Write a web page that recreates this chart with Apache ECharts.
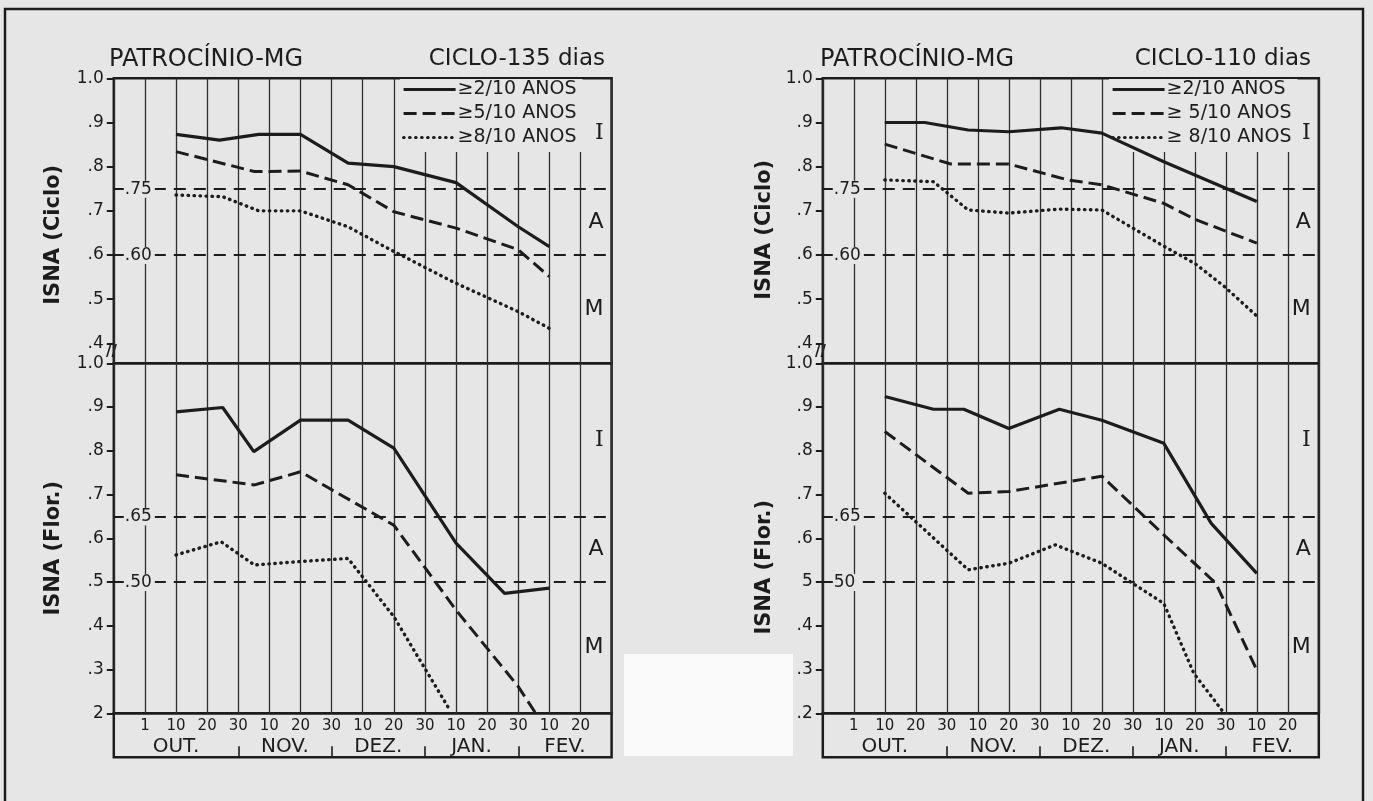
<!DOCTYPE html>
<html>
<head>
<meta charset="utf-8">
<script src="https://cdn.jsdelivr.net/npm/echarts@6/dist/echarts.min.js"></script>
<style>
html,body{margin:0;padding:0;background:#e6e6e6;}
#c{width:1373px;height:801px;}
</style>
</head>
<body>
<div id="c"></div>
<script>
// ---------------- data ----------------
// x position: 1 = Out 1, 2 = Out 10, 3 = Out 20, 4 = Out 30, 5 = Nov 10 ... 15 = Fev 20
const dayTicks = ['1','10','20','30','10','20','30','10','20','30','10','20','30','10','20'];
const months = ['OUT.','NOV.','DEZ.','JAN.','FEV.'];
const monthBounds = [0, 4, 7, 10, 13, 16];
const seriesNames = ['≥2/10 ANOS', '≥5/10 ANOS', '≥8/10 ANOS'];

const cicloTicks = [0.4, 0.5, 0.6, 0.7, 0.8, 0.9, 1.0];
const cicloTickLabels = ['.4', '.5', '.6', '.7', '.8', '.9', '1.0'];
const florTicks = [0.2, 0.3, 0.4, 0.5, 0.6, 0.7, 0.8, 0.9, 1.0];
const florTickLabelsL = ['2', '.3', '.4', '.5', '.6', '.7', '.8', '.9', '1.0'];
const florTickLabelsR = ['.2', '.3', '.4', '5', '.6', '.7', '.8', '.9', '1.0'];

const cicloLimits = [0.75, 0.60];
const cicloLimitLabels = ['.75', '.60'];
const florLimits = [0.65, 0.50];
const florLimitLabelsL = ['.65', '.50'];
const florLimitLabelsR = ['.65', '50'];
const zoneLabels = ['I', 'A', 'M'];

// Ciclo 135 dias - ISNA (Ciclo)
const c135Ciclo2 = [[2,0.873],[3.4,0.860],[4.66,0.873],[6,0.873],[7.53,0.808],[9,0.800],[11,0.764],[13,0.664],[14,0.619]];
const c135Ciclo5 = [[2,0.834],[4.52,0.789],[6,0.790],[7.53,0.759],[9,0.698],[11,0.661],[13,0.612],[14,0.551]];
const c135Ciclo8 = [[2,0.736],[3.5,0.732],[4.66,0.700],[6,0.700],[7.53,0.664],[9,0.608],[11,0.536],[13,0.472],[14,0.434]];
// Ciclo 135 dias - ISNA (Flor.)
const c135Flor2 = [[2,0.889],[3.5,0.899],[4.5,0.798],[6,0.870],[7.53,0.870],[9,0.806],[11,0.589],[12.56,0.474],[14,0.486]];
const c135Flor5 = [[2,0.745],[4.52,0.722],[6,0.752],[9,0.630],[11,0.436],[13,0.261],[13.56,0.200]];
const c135Flor8 = [[2,0.562],[3.45,0.592],[4.52,0.539],[6,0.547],[7.53,0.554],[9,0.421],[10.77,0.211]];
// Ciclo 110 dias - ISNA (Ciclo)
const c110Ciclo2 = [[2,0.900],[3.29,0.900],[4.69,0.883],[6,0.879],[7.69,0.888],[9,0.876],[11,0.811],[14,0.721]];
const c110Ciclo5 = [[2,0.851],[4.13,0.806],[6,0.806],[7.91,0.770],[9,0.759],[11,0.717],[12,0.681],[14,0.627]];
const c110Ciclo8 = [[2,0.770],[3.57,0.766],[4.69,0.702],[6,0.695],[7.63,0.704],[9,0.702],[11,0.620],[12,0.581],[12.95,0.529],[14.08,0.457]];
// Ciclo 110 dias - ISNA (Flor.)
const c110Flor2 = [[2,0.924],[3.57,0.895],[4.55,0.895],[6,0.851],[7.63,0.895],[9,0.870],[11,0.817],[12.53,0.634],[14,0.520]];
const c110Flor5 = [[2,0.844],[4.69,0.703],[6,0.707],[9,0.742],[11,0.608],[12.68,0.497],[14,0.299]];
const c110Flor8 = [[2,0.703],[4.69,0.528],[6,0.543],[7.5,0.585],[9,0.543],[11,0.451],[11.97,0.291],[12.95,0.200]];

// ---------------- layout / style ----------------
const BG = '#e6e6e6';
const INK = '#1c1c1c';
const FONT = 'DejaVu Sans';
const CICLO_MIN = 0.355;
const FLOR_MIN = 0.2;

const lineStyles = [
  {color: INK, width: 3.2, type: 'solid'},
  {color: INK, width: 3, type: [13, 6]},
  {color: INK, width: 3.4, type: [0.5, 5.5], cap: 'round'}
];

const panels = [
  {left: 113.8, width: 497.8, legendLeft: 400, legendFmt: n => n,
   title: 'CICLO-135 dias', titleRight: 768, titleLeft: 109,
   ciclo: [c135Ciclo2, c135Ciclo5, c135Ciclo8], flor: [c135Flor2, c135Flor5, c135Flor8],
   florTickLabels: florTickLabelsL, florLimitLabels: florLimitLabelsL,
   nameGap: 50, namePadTop: 28, namePadBot: 20},
  {left: 822.8, width: 496, legendLeft: 1109, legendFmt: n => (n === seriesNames[0] ? n : n.replace('≥', '≥ ')),
   title: 'CICLO-110 dias', titleRight: 62, titleLeft: 820,
   ciclo: [c110Ciclo2, c110Ciclo5, c110Ciclo8], flor: [c110Flor2, c110Flor5, c110Flor8],
   florTickLabels: florTickLabelsR, florLimitLabels: florLimitLabelsR,
   nameGap: 48, namePadTop: 18, namePadBot: 58}
];

const grids = [], xAxes = [], yAxes = [], series = [], legends = [], titles = [];

function idxOf(arr, v) {
  for (let i = 0; i < arr.length; i++) if (Math.abs(arr[i] - v) < 1e-6) return i;
  return -1;
}

function valueYAxis(gi, min, max, ticks, labels, name, padRight, gap) {
  return {
    gridIndex: gi, type: 'value', min: min, max: max,
    axisLine: {show: false}, splitLine: {show: false},
    axisTick: {show: true, customValues: ticks, length: 7, lineStyle: {color: INK, width: 2}},
    axisLabel: {show: true, customValues: ticks, margin: 10, fontSize: 17, color: INK, fontFamily: FONT,
      formatter: v => { const i = idxOf(ticks, v); return i >= 0 ? labels[i] : ''; }},
    name: name, nameLocation: 'middle', nameRotate: 90, nameGap: gap,
    nameTextStyle: {fontSize: 21, fontWeight: 'bold', color: INK, fontFamily: FONT, padding: [0, padRight, 0, 0]}
  };
}

function gridX(gi, showLabels) {
  return {
    gridIndex: gi, type: 'value', min: 0, max: 16, interval: 1,
    axisLine: {show: false}, axisTick: {show: false},
    axisLabel: {show: showLabels, margin: 5, fontSize: 15, color: INK, fontFamily: FONT,
      formatter: v => dayTicks[v - 1] || ''},
    splitLine: {show: true, lineStyle: {color: '#2e2e2e', width: 1.3}}
  };
}

function zoneArea(limits, min) {
  const edges = [1.0, limits[0], limits[1], min];
  return {
    silent: true,
    itemStyle: {color: 'rgba(0,0,0,0)'},
    label: {show: true, position: 'insideRight', distance: 8, fontSize: 22, color: INK, fontFamily: FONT},
    data: zoneLabels.map((z, i) => [
      {yAxis: edges[i + 1], name: z, label: i === 0 ? {fontFamily: 'DejaVu Serif'} : {}},
      {yAxis: edges[i]}
    ])
  };
}

function limitLines(limits, labels) {
  return {
    silent: true, symbol: 'none',
    lineStyle: {color: INK, width: 2, type: [12, 8]},
    label: {show: true, position: 'insideStartTop', distance: [10, -9], fontSize: 17, color: INK,
      fontFamily: FONT, backgroundColor: BG, padding: [0, 3, 0, 1]},
    data: limits.map((v, i) => ({yAxis: v, label: {formatter: labels[i]}}))
  };
}

const monthCenters = months.map((m, i) => (monthBounds[i] + monthBounds[i + 1]) / 2);

panels.forEach((p, pi) => {
  const g0 = grids.length;
  // top (ciclo), bottom (flor), box (months)
  grids.push({left: p.left, top: 78.3, width: p.width, height: 285, show: true, borderColor: INK, borderWidth: 2.5, backgroundColor: 'rgba(0,0,0,0)'});
  grids.push({left: p.left, top: 363.3, width: p.width, height: 350, show: true, borderColor: INK, borderWidth: 2.5, backgroundColor: 'rgba(0,0,0,0)'});
  grids.push({left: p.left, top: 713.3, width: p.width, height: 44, show: true, borderColor: INK, borderWidth: 2.5, backgroundColor: 'rgba(0,0,0,0)'});

  xAxes.push(gridX(g0, false));
  xAxes.push(gridX(g0 + 1, true));
  xAxes.push({
    gridIndex: g0 + 2, type: 'value', min: 0, max: 16,
    axisLine: {show: false}, splitLine: {show: false},
    axisTick: {show: true, inside: true, length: 11, customValues: monthBounds.slice(1, -1), lineStyle: {color: INK, width: 1.6}},
    axisLabel: {show: true, inside: true, customValues: monthCenters, margin: 1, fontSize: 20, color: INK, fontFamily: FONT,
      formatter: v => { const i = idxOf(monthCenters, v); return i >= 0 ? months[i] : ''; }}
  });

  yAxes.push(valueYAxis(g0, CICLO_MIN, 1.0, cicloTicks, cicloTickLabels, 'ISNA (Ciclo)', p.namePadTop, p.nameGap));
  yAxes.push(valueYAxis(g0 + 1, FLOR_MIN, 1.0, florTicks, p.florTickLabels, 'ISNA (Flor.)', p.namePadBot, p.nameGap));
  yAxes.push({gridIndex: g0 + 2, type: 'value', show: false});

  [[p.ciclo, g0, cicloLimits, cicloLimitLabels, CICLO_MIN], [p.flor, g0 + 1, florLimits, p.florLimitLabels, FLOR_MIN]].forEach(([sets, gi, lim, limLab, mn]) => {
    sets.forEach((d, si) => {
      const s = {
        type: 'line', name: seriesNames[si], xAxisIndex: gi, yAxisIndex: gi,
        data: d, symbol: 'none', showSymbol: false, color: INK, itemStyle: {color: INK},
        lineStyle: lineStyles[si], z: 6, silent: true
      };
      if (si === 0) {
        s.markLine = limitLines(lim, limLab);
        s.markArea = zoneArea(lim, mn);
      }
      series.push(s);
    });
  });

  legends.push({
    orient: 'vertical', left: p.legendLeft, top: 79, itemWidth: 52, itemHeight: 12, itemGap: 5,
    padding: [1, 6, 5, 2], backgroundColor: BG, selectedMode: false, z: 4,
    itemStyle: {opacity: 0, borderWidth: 0},
    lineStyle: {width: 3.2},
    textStyle: {fontSize: 19, color: INK, fontFamily: FONT, padding: [0, 0, 0, -3]},
    formatter: p.legendFmt, data: seriesNames
  });

  titles.push({text: 'PATROCÍNIO-MG', left: p.titleLeft, top: 48, padding: 0,
    textStyle: {fontSize: 24, fontWeight: 'normal', color: INK, fontFamily: FONT}});
  titles.push({text: p.title, right: p.titleRight, top: 48, padding: 0,
    textStyle: {fontSize: 23, fontWeight: 'normal', color: INK, fontFamily: FONT}});
});

const chart = echarts.init(document.getElementById('c'));
chart.setOption({
  backgroundColor: BG,
  animation: false,
  title: titles,
  legend: legends,
  grid: grids,
  xAxis: xAxes,
  yAxis: yAxes,
  series: series,
  graphic: [
    {type: 'polyline', shape: {points: [[5, 801], [5, 9], [1363, 9], [1363, 801]]}, style: {fill: 'none', stroke: INK, lineWidth: 2.5}, z: -1},
    {type: 'rect', shape: {x: 624, y: 654, width: 169, height: 102}, style: {fill: '#fafafa'}, z: -1},
    {type: 'text', x: 106, y: 345, style: {text: '//', fontSize: 15, fontWeight: 'bold', fill: INK, fontFamily: FONT}},
    {type: 'text', x: 815, y: 345, style: {text: '//', fontSize: 15, fontWeight: 'bold', fill: INK, fontFamily: FONT}}
  ]
});
</script>
</body>
</html>
